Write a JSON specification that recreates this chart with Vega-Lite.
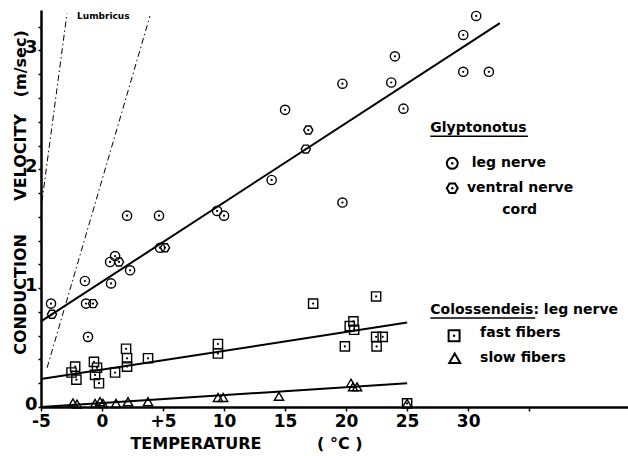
{
  "$schema": "https://vega.github.io/schema/vega-lite/v6.json",
  "width": 587,
  "height": 397,
  "autosize": {"type": "none"},
  "padding": {"left": 41, "top": 10, "right": 0, "bottom": 49},
  "background": "white",
  "config": {"view": {"stroke": null}, "font": "DejaVu Sans"},
  "datasets": {
    "lumbricus": [
      {"line": "A", "T": -4.92, "V": 1.73},
      {"line": "A", "T": -2.87, "V": 3.31},
      {"line": "B", "T": -4.5, "V": 0.33},
      {"line": "B", "T": 3.93, "V": 3.29}
    ],
    "fits": [
      {"series": "Glyptonotus", "T": -5, "V": 0.72},
      {"series": "Glyptonotus", "T": 32.6, "V": 3.23},
      {"series": "fast fibers", "T": -5, "V": 0.235},
      {"series": "fast fibers", "T": 25, "V": 0.71},
      {"series": "slow fibers", "T": -5, "V": 0.0},
      {"series": "slow fibers", "T": 25, "V": 0.2}
    ],
    "points": [
      {"group": "leg nerve", "T": 30.66, "V": 3.29},
      {"group": "leg nerve", "T": 29.6, "V": 3.13},
      {"group": "leg nerve", "T": 24.0, "V": 2.95},
      {"group": "leg nerve", "T": 19.7, "V": 2.72},
      {"group": "leg nerve", "T": 23.7, "V": 2.73},
      {"group": "leg nerve", "T": 29.6, "V": 2.82},
      {"group": "leg nerve", "T": 31.7, "V": 2.82},
      {"group": "leg nerve", "T": 24.7, "V": 2.51},
      {"group": "leg nerve", "T": 15.0, "V": 2.5},
      {"group": "leg nerve", "T": 13.9, "V": 1.91},
      {"group": "leg nerve", "T": 19.7, "V": 1.72},
      {"group": "leg nerve", "T": 2.05, "V": 1.61},
      {"group": "leg nerve", "T": 4.67, "V": 1.61},
      {"group": "leg nerve", "T": 9.43, "V": 1.65},
      {"group": "leg nerve", "T": 10.0, "V": 1.61},
      {"group": "leg nerve", "T": 4.75, "V": 1.34},
      {"group": "leg nerve", "T": 0.66, "V": 1.22},
      {"group": "leg nerve", "T": 1.07, "V": 1.27},
      {"group": "leg nerve", "T": 2.3, "V": 1.15},
      {"group": "leg nerve", "T": -1.4, "V": 1.06},
      {"group": "leg nerve", "T": 0.74, "V": 1.04},
      {"group": "leg nerve", "T": -4.18, "V": 0.87},
      {"group": "leg nerve", "T": -1.31, "V": 0.87},
      {"group": "leg nerve", "T": -1.15, "V": 0.59},
      {"group": "ventral nerve cord", "T": 16.9, "V": 2.33},
      {"group": "ventral nerve cord", "T": 16.7, "V": 2.17},
      {"group": "ventral nerve cord", "T": 5.16, "V": 1.34},
      {"group": "ventral nerve cord", "T": 1.39, "V": 1.22},
      {"group": "ventral nerve cord", "T": -4.1, "V": 0.78},
      {"group": "ventral nerve cord", "T": -0.74, "V": 0.87},
      {"group": "fast fibers", "T": 17.3, "V": 0.87},
      {"group": "fast fibers", "T": 22.46, "V": 0.93},
      {"group": "fast fibers", "T": 20.6, "V": 0.72},
      {"group": "fast fibers", "T": 20.3, "V": 0.68},
      {"group": "fast fibers", "T": 20.66, "V": 0.65},
      {"group": "fast fibers", "T": 22.46, "V": 0.59},
      {"group": "fast fibers", "T": 23.0, "V": 0.59},
      {"group": "fast fibers", "T": 22.5, "V": 0.51},
      {"group": "fast fibers", "T": 19.9, "V": 0.51},
      {"group": "fast fibers", "T": 9.5, "V": 0.53},
      {"group": "fast fibers", "T": 9.5, "V": 0.45},
      {"group": "fast fibers", "T": 1.97, "V": 0.49},
      {"group": "fast fibers", "T": 2.05, "V": 0.41},
      {"group": "fast fibers", "T": 2.05, "V": 0.34},
      {"group": "fast fibers", "T": 3.77, "V": 0.41},
      {"group": "fast fibers", "T": 1.07, "V": 0.29},
      {"group": "fast fibers", "T": -2.2, "V": 0.34},
      {"group": "fast fibers", "T": -2.5, "V": 0.29},
      {"group": "fast fibers", "T": -2.1, "V": 0.23},
      {"group": "fast fibers", "T": -0.66, "V": 0.38},
      {"group": "fast fibers", "T": -0.41, "V": 0.33},
      {"group": "fast fibers", "T": -0.57, "V": 0.27},
      {"group": "fast fibers", "T": -0.25, "V": 0.2},
      {"group": "fast fibers", "T": 25.0, "V": 0.03},
      {"group": "slow fibers", "T": -2.38, "V": 0.035},
      {"group": "slow fibers", "T": -2.05, "V": 0.025},
      {"group": "slow fibers", "T": -0.57, "V": 0.03},
      {"group": "slow fibers", "T": -0.16, "V": 0.045},
      {"group": "slow fibers", "T": 0.08, "V": 0.03},
      {"group": "slow fibers", "T": 1.15, "V": 0.03},
      {"group": "slow fibers", "T": 2.13, "V": 0.045},
      {"group": "slow fibers", "T": 3.77, "V": 0.045},
      {"group": "slow fibers", "T": 9.5, "V": 0.08},
      {"group": "slow fibers", "T": 9.92, "V": 0.08},
      {"group": "slow fibers", "T": 14.5, "V": 0.09},
      {"group": "slow fibers", "T": 20.4, "V": 0.2},
      {"group": "slow fibers", "T": 20.57, "V": 0.17},
      {"group": "slow fibers", "T": 20.9, "V": 0.17},
      {"group": "slow fibers", "T": 25.0, "V": 0.03}
    ],
    "keys": [
      {"group": "leg nerve", "T": 28.7, "V": 2.05},
      {"group": "ventral nerve cord", "T": 28.7, "V": 1.84},
      {"group": "fast fibers", "T": 28.85, "V": 0.6},
      {"group": "slow fibers", "T": 28.9, "V": 0.41}
    ],
    "labels": [
      {"label": "Glyptonotus", "T": 26.9, "V": 2.35},
      {"label": "leg nerve", "T": 30.3, "V": 2.05},
      {"label": "ventral nerve", "T": 29.9, "V": 1.84},
      {"label": "cord", "T": 32.8, "V": 1.66},
      {"label": "Colossendeis: leg nerve", "T": 26.9, "V": 0.815},
      {"label": "fast fibers", "T": 30.98, "V": 0.62},
      {"label": "slow fibers", "T": 30.98, "V": 0.41}
    ],
    "tag": [
      {"label": "Lumbricus", "T": -2.05, "V": 3.29}
    ],
    "underlines": [
      {"T": 26.9, "T2": 34.9, "V": 2.277},
      {"T": 26.9, "T2": 35.5, "V": 0.748}
    ]
  },
  "encoding": {
    "x": {
      "field": "T",
      "type": "quantitative",
      "scale": {"domain": [-5, 43.1], "nice": false, "zero": false},
      "axis": {
        "values": [-5, 0, 5, 10, 15, 20, 25, 30, 35],
        "labelExpr": "datum.value == 5 ? '+5' : (datum.value > 30 ? '' : '' + datum.value)",
        "title": "TEMPERATURE\u00a0\u00a0\u00a0\u00a0\u00a0\u00a0\u00a0\u00a0\u00a0\u00a0( °C )",
        "grid": false,
        "domainColor": "black",
        "domainWidth": 2.5,
        "tickColor": "black",
        "tickWidth": 1.5,
        "tickSize": 4,
        "labelFont": "DejaVu Sans",
        "labelFontWeight": "bold",
        "labelFontSize": 17,
        "labelColor": "black",
        "labelPadding": 2,
        "labelFlush": false,
        "labelOverlap": false,
        "titleFont": "DejaVu Sans",
        "titleFontWeight": "bold",
        "titleFontSize": 16,
        "titleColor": "black",
        "titleX": 205,
        "titleY": 28,
        "titleAlign": "center",
        "titleBaseline": "top"
      }
    },
    "y": {
      "field": "V",
      "type": "quantitative",
      "scale": {"domain": [0, 3.34], "nice": false, "zero": false},
      "axis": {
        "values": [0, 0.2, 0.4, 0.6, 0.8, 1, 1.2, 1.4, 1.6, 1.8, 2, 2.2, 2.4, 2.6, 2.8, 3, 3.2],
        "labelExpr": "datum.value % 1 == 0 ? '' + datum.value : ''",
        "title": "CONDUCTION\u00a0\u00a0\u00a0\u00a0\u00a0\u00a0VELOCITY\u00a0\u00a0\u00a0(m/sec)",
        "grid": false,
        "domainColor": "black",
        "domainWidth": 2.5,
        "tickColor": "black",
        "tickWidth": 1.5,
        "tickSize": 3,
        "labelFont": "DejaVu Sans",
        "labelFontWeight": "bold",
        "labelFontSize": 18,
        "labelColor": "black",
        "labelPadding": 1,
        "labelOffset": -3,
        "labelFlush": false,
        "labelOverlap": false,
        "titleFont": "DejaVu Sans",
        "titleFontWeight": "bold",
        "titleFontSize": 16,
        "titleColor": "black",
        "titleAngle": -90,
        "titleX": -21,
        "titleY": 182,
        "titleAlign": "center",
        "titleBaseline": "middle"
      }
    }
  },
  "layer": [
    {
      "data": {"name": "lumbricus"},
      "mark": {"type": "line", "stroke": "black", "strokeWidth": 1, "strokeDash": [6, 3, 1.5, 3]},
      "encoding": {"detail": {"field": "line"}}
    },
    {
      "data": {"name": "fits"},
      "mark": {"type": "line", "stroke": "black", "strokeWidth": 2},
      "encoding": {"detail": {"field": "series"}}
    },
    {
      "data": {"name": "points"},
      "mark": {"type": "point", "filled": false, "stroke": "black", "strokeWidth": 1.4, "size": 85, "opacity": 1},
      "encoding": {
        "shape": {
          "field": "group",
          "type": "nominal",
          "scale": {
            "domain": ["leg nerve", "ventral nerve cord", "fast fibers", "slow fibers"],
            "range": ["circle", "M-1,0L-0.5,-0.866L0.5,-0.866L1,0L0.5,0.866L-0.5,0.866Z", "square", "triangle-up"]
          },
          "legend": null
        }
      }
    },
    {
      "data": {"name": "points"},
      "transform": [{"filter": "datum.group != 'slow fibers'"}],
      "mark": {"type": "circle", "color": "black", "size": 5, "opacity": 1}
    },
    {
      "data": {"name": "keys"},
      "mark": {"type": "point", "filled": false, "stroke": "black", "strokeWidth": 2, "size": 120, "opacity": 1},
      "encoding": {
        "shape": {
          "field": "group",
          "type": "nominal",
          "scale": {
            "domain": ["leg nerve", "ventral nerve cord", "fast fibers", "slow fibers"],
            "range": ["circle", "M-1,0L-0.5,-0.866L0.5,-0.866L1,0L0.5,0.866L-0.5,0.866Z", "square", "triangle-up"]
          },
          "legend": null
        }
      }
    },
    {
      "data": {"name": "keys"},
      "transform": [{"filter": "datum.group != 'slow fibers'"}],
      "mark": {"type": "circle", "color": "black", "size": 6, "opacity": 1}
    },
    {
      "data": {"name": "labels"},
      "mark": {"type": "text", "align": "left", "baseline": "middle", "font": "DejaVu Sans", "fontWeight": "bold", "fontSize": 14, "color": "black"},
      "encoding": {"text": {"field": "label"}}
    },
    {
      "data": {"name": "tag"},
      "mark": {"type": "text", "align": "left", "baseline": "middle", "font": "DejaVu Sans", "fontWeight": "bold", "fontSize": 9, "color": "black"},
      "encoding": {"text": {"field": "label"}}
    },
    {
      "data": {"name": "underlines"},
      "mark": {"type": "rule", "stroke": "black", "strokeWidth": 1.5},
      "encoding": {"x2": {"field": "T2"}}
    }
  ]
}
